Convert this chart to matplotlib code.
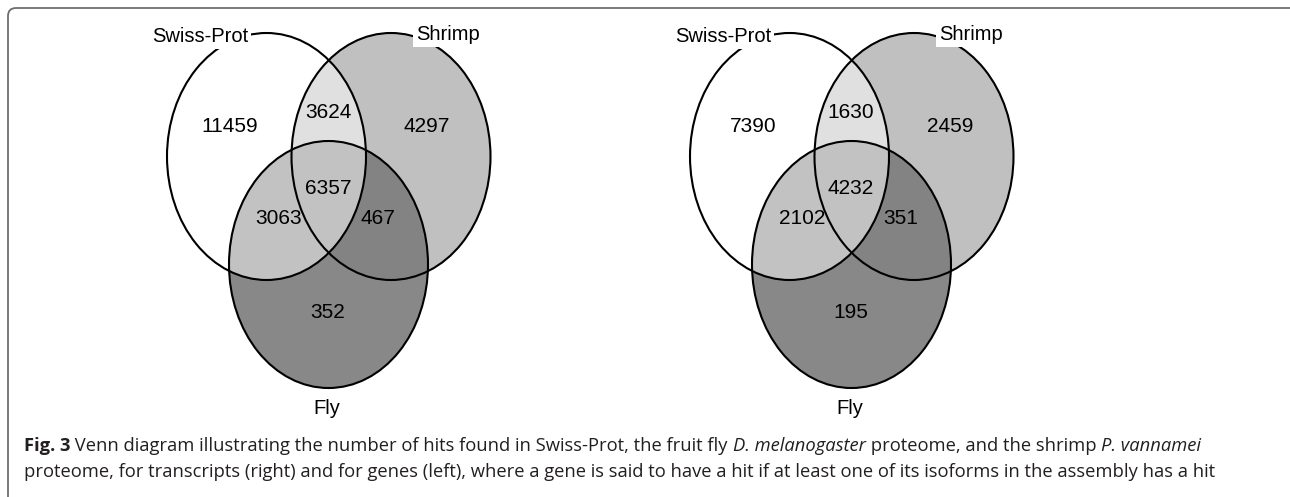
import matplotlib
matplotlib.use('Agg')
import matplotlib.pyplot as plt
from matplotlib.patches import Ellipse, FancyBboxPatch

# Venn counts, regions in order:
# swiss only, swiss&shrimp, shrimp only, all three, swiss&fly, shrimp&fly, fly only
regions = ['swiss', 'swiss_shrimp', 'shrimp', 'all', 'swiss_fly', 'shrimp_fly', 'fly']
genes = [11459, 3624, 4297, 6357, 3063, 467, 352]
transcripts = [7390, 1630, 2459, 4232, 2102, 351, 195]
set_names = ['Swiss-Prot', 'Shrimp', 'Fly']

caption_line1 = [
    ('Fig. 3', 'bold', 'normal'),
    (' Venn diagram illustrating the number of hits found in Swiss-Prot, the fruit fly ', 'normal', 'normal'),
    ('D. melanogaster', 'normal', 'italic'),
    (' proteome, and the shrimp ', 'normal', 'normal'),
    ('P. vannamei', 'normal', 'italic'),
]
caption_line2 = [
    ('proteome, for transcripts (right) and for genes (left), where a gene is said to have a hit '
     'if at least one of its isoforms in the assembly has a hit', 'normal', 'normal'),
]

W, H = 1290, 497
fig = plt.figure(figsize=(W / 100, H / 100), dpi=100)
ax = fig.add_axes([0, 0, 1, 1])
ax.set_xlim(0, W)
ax.set_ylim(H, 0)
ax.axis('off')

# frame (only top/left visible in the original crop)
frame = FancyBboxPatch((8, 8), 1400, 600, boxstyle='round,pad=0,rounding_size=8',
                       fc='none', ec='#6e6e6e', lw=1.3)
ax.add_patch(frame)

venn_font = 'Liberation Sans'
EW, EH = 199, 247
num_pos = {
    'swiss': (230, 127), 'swiss_shrimp': (328, 112), 'shrimp': (427, 127),
    'all': (328, 188), 'swiss_fly': (279, 219), 'shrimp_fly': (378, 219),
    'fly': (328, 312),
}


def venn(x0, counts):
    cs = (x0 + 266.5, 156.5)
    ch = (x0 + 391, 156.5)
    cf = (x0 + 328.5, 264.5)

    def ell(c, **kw):
        e = Ellipse(c, EW, EH, **kw)
        ax.add_patch(e)
        return e

    ell(ch, fc='#c0c0c0', ec='none')
    e = ell(cs, fc='#e0e0e0', ec='none')
    e.set_clip_path(Ellipse(ch, EW, EH, transform=ax.transData))
    ell(cf, fc='#888888', ec='none')
    e = ell(ch, fc='#838383', ec='none')
    e.set_clip_path(Ellipse(cf, EW, EH, transform=ax.transData))
    e = ell(cs, fc='#c2c2c2', ec='none')
    e.set_clip_path(Ellipse(cf, EW, EH, transform=ax.transData))
    for c in (cs, ch, cf):
        ell(c, fc='none', ec='black', lw=1.5)

    for r, v in zip(regions, counts):
        x, y = num_pos[r]
        ax.text(x0 + x, y, str(v), ha='center', va='center', fontsize=15,
                family=venn_font)

    box = dict(fc='white', ec='none', pad=2)
    ax.text(x0 + 200, 37, set_names[0], ha='center', va='center', fontsize=14.5,
            family=venn_font, bbox=box)
    ax.text(x0 + 448, 35, set_names[1], ha='center', va='center', fontsize=14.5,
            family=venn_font, bbox=box)
    ax.text(x0 + 327, 408, set_names[2], ha='center', va='center', fontsize=14.5,
            family=venn_font)


venn(0, genes)
venn(523, transcripts)

# caption, pieces placed one after another
renderer = fig.canvas.get_renderer()
cap_font = ['Open Sans', 'DejaVu Sans']


def caption(pieces, y, x=24, size=13.2):
    for txt, weight, style in pieces:
        t = ax.text(x, y, txt, ha='left', va='baseline', fontsize=size,
                    family=cap_font, weight=weight, style=style, color='#231f20')
        bb = t.get_window_extent(renderer)
        x += bb.width


caption(caption_line1, 451)
caption(caption_line2, 477)

fig.savefig('out.png', dpi=100)
